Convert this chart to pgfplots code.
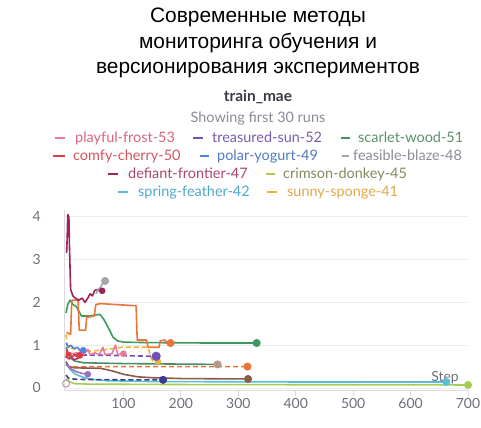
\documentclass[border=0pt]{standalone}
\usepackage{pgfplots}
\pgfplotsset{compat=1.18}
\usepackage{fontspec}
\setmainfont{Lato}
\newfontfamily\titlefont{Liberation Sans}

\definecolor{cFrost}{HTML}{E87A9A}
\definecolor{tFrost}{HTML}{D9637F}
\definecolor{cSun}{HTML}{7352B8}
\definecolor{tSun}{HTML}{7A5AAE}
\definecolor{cWood}{HTML}{3D9A5F}
\definecolor{tWood}{HTML}{5B8F6A}
\definecolor{cCherry}{HTML}{E0393E}
\definecolor{tCherry}{HTML}{D6545A}
\definecolor{cYogurt}{HTML}{4F84DB}
\definecolor{tYogurt}{HTML}{5179C0}
\definecolor{cBlaze}{HTML}{A5A5AD}
\definecolor{tBlaze}{HTML}{8C8C96}
\definecolor{cFront}{HTML}{9B2458}
\definecolor{tFront}{HTML}{A8466E}
\definecolor{cDonkey}{HTML}{A6CC56}
\definecolor{tDonkey}{HTML}{7F8A5C}
\definecolor{cFeather}{HTML}{55C1D8}
\definecolor{tFeather}{HTML}{4FA8C8}
\definecolor{cSponge}{HTML}{F0B23A}
\definecolor{tSponge}{HTML}{E0A84A}
\definecolor{cOrange}{HTML}{E8763A}
\definecolor{cBrown}{HTML}{8C5A46}
\definecolor{cDGreen}{HTML}{4A8C66}
\definecolor{cNavy}{HTML}{3B3A8C}
\definecolor{cLPurple}{HTML}{9B6FC6}
\definecolor{cMag}{HTML}{B03070}
\definecolor{gridc}{HTML}{ECECEE}
\definecolor{axisc}{HTML}{DADADE}
\definecolor{tickc}{HTML}{6E6E78}
\definecolor{headc}{HTML}{3A3A45}
\definecolor{subc}{HTML}{8A8A96}

\begin{document}
\begin{tikzpicture}[x=1bp,y=1bp]
\path[use as bounding box] (0,0) rectangle (481,427);

% title
\begin{scope}[every node/.style={anchor=base, font=\titlefont\fontsize{21}{24}\selectfont, inner sep=0pt}]
\node at (258,404) {Современные методы};
\node at (258,379) {мониторинга обучения и};
\node at (258,354) {версионирования экспериментов};
\end{scope}

\node[anchor=base, inner sep=0pt, font=\bfseries\fontsize{15.5}{18}\selectfont, text=headc] at (258,326) {train\_mae};
\node[anchor=base, inner sep=0pt, font=\fontsize{14.5}{17}\selectfont, text=subc] at (258,305) {Showing first 30 runs};

% legend
\begin{scope}[every node/.style={anchor=base west, inner sep=0pt, font=\fontsize{14.5}{17}\selectfont}]
\draw[cFrost, line width=2bp] (55,289) -- (65,289); \node[text=tFrost] at (75,285) {playful-frost-53};
\draw[cSun, line width=2bp] (193,289) -- (203,289); \node[text=tSun] at (212,285) {treasured-sun-52};
\draw[cWood, line width=2bp] (341,289) -- (350,289); \node[text=tWood] at (358,285) {scarlet-wood-51};
\draw[cCherry, line width=2bp] (53,271) -- (65,271); \node[text=tCherry] at (73,267) {comfy-cherry-50};
\draw[cYogurt, line width=2bp] (200,271) -- (209,271); \node[text=tYogurt] at (217,267) {polar-yogurt-49};
\draw[cBlaze, line width=2bp] (342,271) -- (349,271); \node[text=tBlaze] at (353,267) {feasible-blaze-48};
\draw[cFront, line width=2bp] (108,253) -- (118,253); \node[text=tFront] at (128,249) {defiant-frontier-47};
\draw[cDonkey, line width=2bp] (266,253) -- (275,253); \node[text=tDonkey] at (283,249) {crimson-donkey-45};
\draw[cFeather, line width=2bp] (118,235) -- (128,235); \node[text=tFeather] at (138,231) {spring-feather-42};
\draw[cSponge, line width=2bp] (267,235) -- (277,235); \node[text=tSponge] at (287,231) {sunny-sponge-41};
\end{scope}

\begin{axis}[
  at={(64.3bp,36.9bp)}, anchor=south west, scale only axis,
  width=403.7bp, height=179.8bp,
  xmin=-3, xmax=700, ymin=-0.05, ymax=4.15,
  clip=false,
  axis x line*=bottom, axis y line*=left,
  x axis line style={axisc, line width=0.8bp, -},
  y axis line style={axisc, line width=0.8bp, -},
  xtick={100,200,300,400,500,600,700},
  ytick={0,1,2,3,4},
  tick align=outside,
  major tick length=6bp,
  xtick style={axisc, line width=0.8bp},
  ytick style={draw=none},
  ymajorgrids, grid style={gridc, line width=0.8bp},
  /pgf/number format/assume math mode=true,
  tick label style={font=\fontsize{14}{16}\selectfont, text=tickc},
  yticklabel style={xshift=-14bp},
  xticklabel style={yshift=1bp},
  every axis plot/.append style={line width=1.6bp, line join=round},
  dsh/.style={dash pattern=on 5bp off 3bp},
  endm/.style={only marks, mark=*, mark size=3.2bp, forget plot},
]
% crimson-donkey (light green, long)
\addplot[cDonkey] coordinates {(0,0.22)(5,0.15)(15,0.1)(40,0.09)(200,0.08)(700,0.07)};
\addplot[endm, cDonkey] coordinates {(700,0.07)};
% spring-feather (cyan, long)
\addplot[cFeather] coordinates {(0,0.62)(4,0.5)(8,0.42)(14,0.34)(20,0.3)(28,0.26)(40,0.21)(70,0.17)(150,0.15)(400,0.14)(662,0.14)};
\addplot[endm, cFeather] coordinates {(662,0.14)};
% brown
\addplot[cBrown] coordinates {(0,0.6)(5,0.5)(15,0.47)(60,0.46)(80,0.4)(100,0.32)(125,0.26)(150,0.24)(200,0.22)(317,0.21)};
\addplot[endm, cBrown] coordinates {(317,0.21)};
% navy dashed
\addplot[cNavy, dsh] coordinates {(0,0.3)(5,0.22)(20,0.2)(100,0.19)(169,0.19)};
\addplot[endm, cNavy] coordinates {(169,0.19)};
% dark green 0.55
\addplot[cDGreen] coordinates {(0,0.95)(3,0.8)(8,0.7)(15,0.63)(30,0.59)(60,0.58)(100,0.57)(180,0.56)(264,0.55)};
\addplot[endm, color=cBlaze!70!cOrange] coordinates {(264,0.55)};
% orange dashed 0.5
\addplot[cOrange, dsh] coordinates {(0,0.55)(4,0.5)(100,0.5)(316,0.5)};
\addplot[endm, cOrange] coordinates {(316,0.5)};
% light purple short
\addplot[cLPurple] coordinates {(0,0.55)(8,0.45)(18,0.38)(28,0.34)(38,0.32)};
\addplot[endm, cLPurple, mark size=2.5bp] coordinates {(38,0.32)};
% scarlet-wood
\addplot[cWood] coordinates {(0,1.75)(3,1.95)(7,2.05)(12,1.95)(18,1.9)(27,1.68)(40,1.68)(59,1.72)(65,1.62)(70,1.5)(77,1.32)(82,1.18)(90,1.1)(100,1.07)(140,1.06)(250,1.05)(332,1.05)};
\addplot[endm, cWood] coordinates {(332,1.05)};
% sunny-sponge (yellow dashed)
\addplot[cSponge, dsh] coordinates {(0,1.25)(3,0.95)(30,0.85)(60,0.88)(98,0.95)(143,0.95)(148,0.7)(152,0.62)(160,0.62)};
\addplot[endm, cSponge, mark size=2.5bp] coordinates {(160,0.62)};
% treasured-sun (purple dashed)
\addplot[cSun, dsh] coordinates {(0,0.8)(10,0.78)(30,0.77)(80,0.76)(157,0.74)};
\addplot[endm, cSun, mark size=3.8bp] coordinates {(157,0.74)};
% playful-frost (pink spiky)
\addplot[cFrost] coordinates {(0,0.85)(10,0.8)(20,0.82)(30,0.78)(38,0.9)(42,0.78)(50,0.82)(58,0.78)(64,0.95)(68,0.78)(80,0.8)(86,1.0)(90,0.78)(100,0.8)};
\addplot[endm, cFrost, mark size=2.5bp] coordinates {(100,0.8)};
% magenta short
\addplot[cMag] coordinates {(0,0.75)(5,0.68)(10,0.7)(15,0.66)(22,0.7)};
% comfy-cherry
\addplot[cCherry] coordinates {(0,0.7)(2,0.9)(4,0.75)(7,0.82)(10,0.7)(14,0.78)(18,0.74)(24,0.76)};
\addplot[endm, cCherry, mark size=2.5bp] coordinates {(24,0.76)};
% polar-yogurt
\addplot[cYogurt] coordinates {(0,1.05)(4,0.95)(8,1.0)(14,0.92)(20,0.95)(26,0.85)(30,0.88)};
\addplot[endm, cYogurt, mark size=2.5bp] coordinates {(30,0.88)};
% orange solid
\addplot[cOrange] coordinates {(1,1.3)(8,1.25)(10,2.05)(21,2.05)(23,1.35)(34,1.35)(36,1.65)(49,1.68)(52,1.95)(60,1.97)(122,1.92)(124,1.12)(140,1.12)(143,0.95)(162,0.95)(164,1.1)(172,1.12)(176,1.05)(182,1.05)};
\addplot[endm, cOrange] coordinates {(182,1.05)};
% defiant-frontier
\addplot[cFront] coordinates {(1,3.15)(2,3.5)(3,4.05)(5,4.0)(6,3.3)(8,2.3)(12,2.15)(16,2.1)(22,2.05)(28,2.1)(33,2.0)(38,2.1)(42,2.2)(46,2.15)(50,2.28)(55,2.3)(60,2.25)(63,2.27)};
\addplot[endm, cFront, mark size=2.5bp] coordinates {(63,2.27)};
% feasible-blaze
\addplot[cBlaze] coordinates {(52,2.2)(56,2.3)(60,2.35)(64,2.45)(68,2.5)};
\addplot[endm, cBlaze] coordinates {(68,2.5)};
% hollow start marker
\addplot[only marks, mark=o, mark size=3.5bp, color=cFrost!40!cBlaze, line width=1bp, forget plot] coordinates {(0,0.1)};

\node[font=\fontsize{14}{16}\selectfont, text=tickc] at (axis cs:660,0.25) {Step};
\end{axis}
\end{tikzpicture}
\end{document}
